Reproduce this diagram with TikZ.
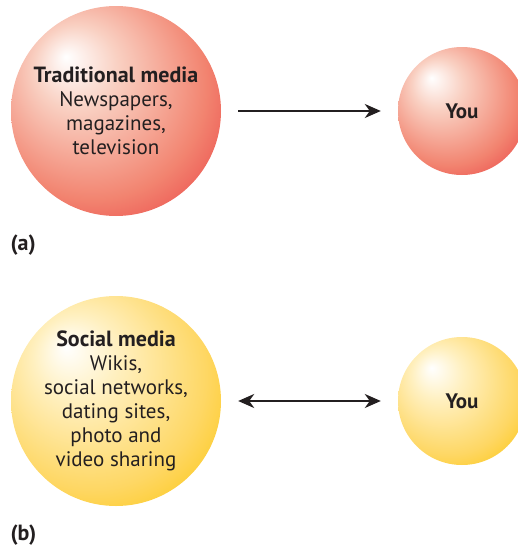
\documentclass[tikz,border=0pt]{standalone}
\usepackage{fontspec}
\setmainfont{PT Sans}
\usetikzlibrary{arrows.meta}

% lit spheres, light from the upper left
\pgfdeclareradialshading{redball}{\pgfpoint{-12bp}{13bp}}{%
  color(0bp)=(white);
  color(10bp)=(rgb,255:red,249;green,208;blue,194);
  color(27bp)=(rgb,255:red,242;green,132;blue,112);
  color(40bp)=(rgb,255:red,233;green,56;blue,62);
  color(50bp)=(rgb,255:red,233;green,56;blue,62)}
\pgfdeclareradialshading{yellowball}{\pgfpoint{-12bp}{13bp}}{%
  color(0bp)=(white);
  color(10bp)=(rgb,255:red,255;green,240;blue,192);
  color(27bp)=(rgb,255:red,254;green,215;blue,100);
  color(40bp)=(rgb,255:red,252;green,195;blue,0);
  color(50bp)=(rgb,255:red,252;green,195;blue,0)}
\definecolor{inkgray}{RGB}{35,31,32}

\begin{document}
\begin{tikzpicture}[
  x=1pt, y=-1pt,
  every node/.style={font=\fontsize{21}{24}\selectfont, text=inkgray},
  media/.style={circle, inner sep=0pt, minimum size=210pt, align=center},
  you/.style={circle, inner sep=0pt, minimum size=128pt, font=\fontsize{21}{24}\selectfont\bfseries},
  link/.style={line width=2pt, draw=inkgray, shorten <=17pt, shorten >=17pt,
    >={Stealth[length=16pt, width=14pt, inset=5pt]}},
  panel/.style={anchor=west, font=\fontsize{22}{24}\selectfont\bfseries}
]
\useasboundingbox (0,0) rectangle (517,546);

% (a) one-way
\node[media, shading=redball] (trad) at (116,111)
  {\textbf{\fontsize{22}{24}\selectfont Traditional media}\\Newspapers,\\magazines,\\television};
\node[you, shading=redball] (youa) at (462,111) {You};
\draw[link, ->] (trad) -- (youa);
\node[panel] (laba) at (7,245) {(a)};

% (b) two-way
\node[media, shading=yellowball] (social) at (116,401)
  {\textbf{\fontsize{22}{24}\selectfont Social media}\\Wikis,\\social networks,\\dating sites,\\photo and\\video sharing};
\node[you, shading=yellowball] (youb) at (462,401) {You};
\draw[link, <->] (social) -- (youb);
\node[panel] (labb) at (7,535) {(b)};
\end{tikzpicture}
\end{document}
